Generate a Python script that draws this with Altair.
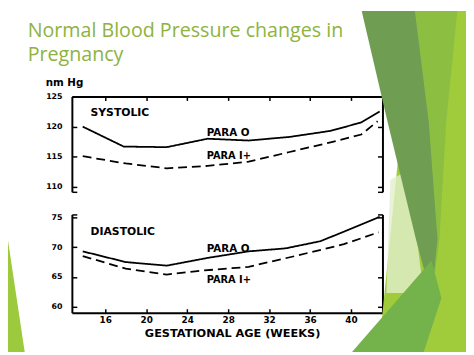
import altair as alt
import pandas as pd

W, H = 466, 347

# ---- data ----
weeks_sys0 = [13.8, 17.8, 22, 26, 30, 34, 38, 41, 42.8]
sys_para0 = [120.0, 116.7, 116.6, 118.0, 117.7, 118.3, 119.3, 120.7, 122.5]
weeks_sys1 = [13.8, 18, 22, 26, 30, 34, 38, 41, 42.6]
sys_para1 = [115.1, 113.9, 113.1, 113.5, 114.2, 115.8, 117.4, 118.7, 120.9]
weeks_dia0 = [13.8, 18, 22, 26, 30, 33.6, 37, 39.3, 42.8]
dia_para0 = [69.3, 67.5, 66.9, 68.2, 69.3, 69.8, 71.0, 72.6, 75.1]
weeks_dia1 = [13.8, 18, 22, 25, 30, 34.5, 39.3, 42.7]
dia_para1 = [68.5, 66.4, 65.4, 66.0, 66.7, 68.5, 70.5, 72.5]

series_names = ["PARA O", "PARA I+"]
x_ticks = [16, 20, 24, 28, 32, 36, 40]
sys_ticks = [110, 115, 120, 125]
dia_ticks = [60, 65, 70, 75]

top_labels = ["SYSTOLIC", "PARA O", "PARA I+"]
top_label_week = [14.56, 25.9, 25.9]
top_label_value = [122.2, 119.0, 115.2]
bot_labels = ["DIASTOLIC", "PARA O", "PARA I+"]
bot_label_week = [14.56, 25.9, 25.9]
bot_label_value = [72.6, 69.7, 64.4]

title_lines = ["Normal Blood Pressure changes in", "Pregnancy"]

# slide decoration (page pixel coordinates)
decor = [
    ("#A0CC3C", 1.0, [(421, 0), (474, 0), (474, 355), (385, 355)]),
    ("#8CBF41", 1.0, [(421, 0), (466, 0), (454, 120), (447, 240), (439, 300)]),
    ("#E2EFCD", 0.8, [(397, 180), (415, 170), (431, 295), (393, 295)]),
    ("#6F9E52", 1.0, [(366, 0), (421, 0), (436, 120), (445, 240), (439, 300), (423, 240), (394, 120)]),
    ("#74B34B", 1.0, [(358, 355), (439, 262), (449, 300), (431, 355)]),
    ("#9DC93C", 1.0, [(0, 188), (0, 355), (25, 355)]),
]

# ---- tables ----
top_df = pd.concat([
    pd.DataFrame({"week": weeks_sys0, "value": sys_para0, "series": series_names[0]}),
    pd.DataFrame({"week": weeks_sys1, "value": sys_para1, "series": series_names[1]}),
])
bot_df = pd.concat([
    pd.DataFrame({"week": weeks_dia0, "value": dia_para0, "series": series_names[0]}),
    pd.DataFrame({"week": weeks_dia1, "value": dia_para1, "series": series_names[1]}),
])
top_lab = pd.DataFrame({"text": top_labels, "week": top_label_week, "value": top_label_value})
bot_lab = pd.DataFrame({"text": bot_labels, "week": bot_label_week, "value": bot_label_value})

features = []
for c, o, pts in decor:
    ring = [list(p) for p in pts] + [list(pts[0])]
    features.append({"type": "Feature", "properties": {"c": c, "o": o},
                     "geometry": {"type": "Polygon", "coordinates": [ring]}})

# ---- scales ----
L, R = 65, 381
xs = alt.Scale(domain=[12.74, 43.07], range=[L, R], nice=False, zero=False)
ys_top = alt.Scale(domain=[109.2, 125], range=[184, 87], nice=False, zero=False)
ys_bot = alt.Scale(domain=[59.0, 75.5], range=[307, 207], nice=False, zero=False)

FONT = "DejaVu Sans"
common = dict(grid=False, domainColor="black", tickColor="black", labelColor="black",
              labelFont=FONT, labelFontWeight="bold", titleColor="black",
              titleFont=FONT, titleFontWeight="bold")

dash = alt.StrokeDash("series:N", scale=alt.Scale(domain=series_names, range=[[1, 0], [9, 5]]), legend=None)

# top panel axes
X3 = alt.Axis(orient="bottom", offset=-(H - 87), values=x_ticks, labels=False, ticks=True,
              tickSize=4, tickWidth=1.5, domain=True, domainWidth=2, title=None, **common)
Y1 = alt.Axis(orient="left", offset=-L, values=sys_ticks, ticks=False, tickSize=0, labelPadding=10,
              labelFontSize=8, domain=True, domainWidth=2, title="nm Hg", titleAngle=0,
              titleX=-8, titleY=73, titleAlign="center", titleBaseline="middle", titleFontSize=10.5,
              **common)
Y2 = alt.Axis(orient="right", offset=-(W - L), values=[109.2] + sys_ticks, labels=False, ticks=True,
              tickSize=5, tickWidth=1.5, domain=False, title=None, **common)
Y3 = alt.Axis(orient="left", offset=-R, values=[109.2] + sys_ticks, labels=False, ticks=True,
              tickSize=5, tickWidth=1.5, domain=True, domainWidth=2, title=None, **common)

# bottom panel axes
X1 = alt.Axis(orient="bottom", offset=-(H - 307), values=x_ticks, ticks=False, tickSize=0, labelPadding=3,
              labelFontSize=9, domain=True, domainWidth=2, title="GESTATIONAL AGE (WEEKS)",
              titleX=228, titleY=21, titleBaseline="middle", titleFontSize=11.5, **common)
X2 = alt.Axis(orient="top", offset=-307, values=x_ticks, labels=False, ticks=True, tickSize=4,
              tickWidth=1.5, domain=False, title=None, **common)
Y4 = alt.Axis(orient="left", offset=-L, values=dia_ticks, ticks=False, tickSize=0, labelPadding=10,
              labelFontSize=8, domain=True, domainWidth=2, title=None, **common)
Y5 = alt.Axis(orient="right", offset=-(W - L), values=dia_ticks + [75.5], labels=False, ticks=True,
              tickSize=5, tickWidth=1.5, domain=False, title=None, **common)
Y6 = alt.Axis(orient="left", offset=-R, values=dia_ticks + [75.5], labels=False, ticks=True,
              tickSize=5, tickWidth=1.5, domain=True, domainWidth=2, title=None, **common)

decor_layer = alt.Chart(alt.Data(values=features)).mark_geoshape(strokeOpacity=0).encode(
    fill=alt.Fill("properties.c:N", scale=None),
    fillOpacity=alt.FillOpacity("properties.o:Q", scale=None),
).project(type="identity", scale=1, translate=[-8, -8])


def line_layer(df, ys, xa, ya):
    return alt.Chart(df).mark_line(color="black", strokeWidth=1.8).encode(
        x=alt.X("week:Q", scale=xs, axis=xa),
        y=alt.Y("value:Q", scale=ys, axis=ya),
        strokeDash=dash,
        detail="series:N",
    )


def ghost(df, ys, xa, ya):
    return alt.Chart(df).mark_point(opacity=0).encode(
        x=alt.X("week:Q", scale=xs, axis=xa),
        y=alt.Y("value:Q", scale=ys, axis=ya),
    )


def text_layer(df, ys, sizes):
    return alt.Chart(df).mark_text(font=FONT, fontWeight="bold", color="black", align="left",
                                   baseline="middle").encode(
        x=alt.X("week:Q", scale=xs, axis=None),
        y=alt.Y("value:Q", scale=ys, axis=None),
        text="text:N",
        size=alt.Size("text:N", scale=alt.Scale(domain=list(df["text"]), range=sizes), legend=None),
    )


chart = alt.layer(
    decor_layer,
    line_layer(top_df, ys_top, X3, Y1),
    ghost(top_df, ys_top, None, Y2),
    ghost(top_df, ys_top, None, Y3),
    line_layer(bot_df, ys_bot, X1, Y4),
    ghost(bot_df, ys_bot, X2, Y5),
    ghost(bot_df, ys_bot, None, Y6),
    text_layer(top_lab, ys_top, [11, 10, 10]),
    text_layer(bot_lab, ys_bot, [11, 10, 10]),
).resolve_scale(x="independent", y="independent", size="independent", strokeDash="independent"
).resolve_axis(x="independent", y="independent").properties(
    width=W, height=H, autosize=alt.AutoSizeParams(type="none"), padding=0,
    title=alt.TitleParams(title_lines, anchor="start", frame="group", orient="top", offset=0,
                          baseline="top", dx=20, dy=55, font="Open Sans", fontSize=20,
                          fontWeight="normal", color="#8DB33E", lineHeight=25),
).configure_view(stroke=None)

chart.save("out.html", embed_options={"renderer": "svg", "actions": False})
